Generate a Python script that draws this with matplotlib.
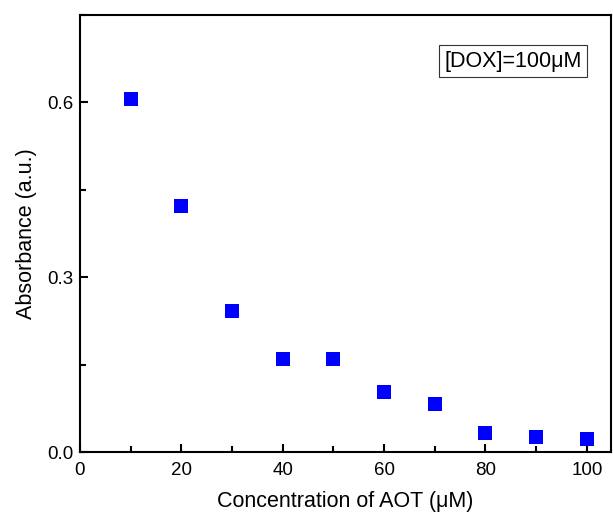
import matplotlib.pyplot as plt
from matplotlib.ticker import MultipleLocator

plt.rcParams['font.family'] = ['Liberation Sans', 'DejaVu Sans']

# AOT concentration (uM) and absorbance
conc = [10, 20, 30, 40, 50, 60, 70, 80, 90, 100]
absorbance = [0.606, 0.423, 0.242, 0.160, 0.159, 0.103, 0.083, 0.032, 0.026, 0.023]

fig = plt.figure(figsize=(6.13, 5.18), dpi=100)
ax = fig.add_axes([0.1305, 0.1274, 0.8665, 0.8436])

ax.plot(conc, absorbance, 's', color='#0000ff', markersize=9.5, markeredgewidth=0)

ax.set_xlim(0, 104.8)
ax.set_ylim(0, 0.75)
ax.xaxis.set_major_locator(MultipleLocator(20))
ax.xaxis.set_minor_locator(MultipleLocator(10))
ax.yaxis.set_major_locator(MultipleLocator(0.3))
ax.yaxis.set_minor_locator(MultipleLocator(0.15))
ax.yaxis.set_major_formatter(lambda v, p: f'{v:.1f}')

ax.tick_params(which='both', direction='in', width=1.5, labelsize=13.5, top=False, right=False)
ax.tick_params(which='major', length=6)
ax.tick_params(which='minor', length=4)
ax.tick_params(axis='x', pad=7)
ax.tick_params(axis='y', pad=5)
for s in ax.spines.values():
    s.set_linewidth(1.5)

ax.set_xlabel('Concentration of AOT (\u03bcM)', fontsize=15.5, labelpad=9)
ax.set_ylabel('Absorbance (a.u.)', fontsize=15.5, labelpad=7)

ax.text(0.815, 0.894, '[DOX]=100\u03bcM', transform=ax.transAxes, fontsize=15.5,
        ha='center', va='center',
        bbox=dict(boxstyle='square,pad=0.25', facecolor='white', edgecolor='#333333', linewidth=0.8))

fig.savefig('out.png', dpi=100)
